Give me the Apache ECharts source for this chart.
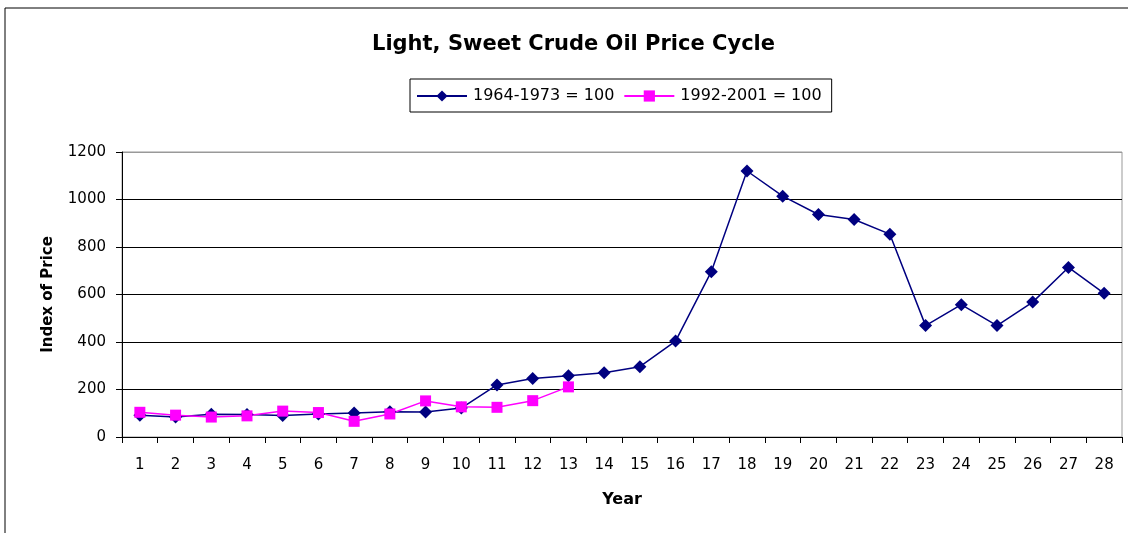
<!DOCTYPE html>
<html>
<head>
<meta charset="utf-8">
<script src="https://cdn.jsdelivr.net/npm/echarts@6/dist/echarts.min.js"></script>
<style>
  html, body { margin: 0; padding: 0; background: #fff; }
  #main { width: 1128px; height: 533px; }
</style>
</head>
<body>
<div id="main"></div>
<script>
// years of the cycle
var years = ['1','2','3','4','5','6','7','8','9','10','11','12','13','14',
             '15','16','17','18','19','20','21','22','23','24','25','26','27','28'];
// 1964-1973 = 100
var cycle1964 = [92, 84, 96, 95, 91, 97, 101, 106, 105, 122, 219, 246, 258, 271,
                 296, 404, 696, 1120, 1014, 937, 916, 854, 469, 557, 469, 568, 714, 605];
// 1992-2001 = 100
var cycle1992 = [104, 92, 84, 89, 109, 103, 66, 97, 152, 127, 125, 153, 211];
var yTicks = [0, 200, 400, 600, 800, 1000, 1200];

var font = 'DejaVu Sans, Arial, sans-serif';
var chart = echarts.init(document.getElementById('main'));
chart.setOption({
  backgroundColor: '#fff',
  animation: false,
  title: {
    text: 'Light, Sweet Crude Oil Price Cycle',
    left: 372,
    top: 34,
    padding: 0,
    textStyle: { fontFamily: font, fontSize: 21, fontWeight: 'bold', color: '#000' }
  },
  legend: {
    top: 79,
    left: 410,
    padding: [9, 10, 8, 6],
    itemGap: 9,
    itemWidth: 50,
    itemHeight: 14,
    borderColor: '#000',
    borderWidth: 1,
    textStyle: { fontFamily: font, fontSize: 16, color: '#000', padding: [0, 0, 0, 1] },
    data: ['1964-1973 = 100', '1992-2001 = 100']
  },
  graphic: [{
    type: 'rect',
    shape: { x: 5, y: 8, width: 1200, height: 600 },
    style: { fill: null, stroke: '#000', lineWidth: 1 },
    silent: true
  }],
  grid: { left: 122, right: 6, top: 152, bottom: 96, show: true, borderColor: '#999', borderWidth: 1 },
  xAxis: {
    type: 'category',
    data: years,
    boundaryGap: true,
    name: 'Year',
    nameLocation: 'middle',
    nameGap: 55,
    nameTextStyle: { fontFamily: font, fontSize: 16, fontWeight: 'bold', color: '#000' },
    axisLine: { lineStyle: { color: '#000', width: 1 } },
    axisTick: { show: true, length: 6, inside: false, lineStyle: { color: '#000' } },
    axisLabel: { fontFamily: font, fontSize: 15, color: '#000', margin: 21, interval: 0 }
  },
  yAxis: {
    type: 'value',
    min: yTicks[0],
    max: yTicks[yTicks.length - 1],
    interval: 200,
    name: 'Index of Price',
    nameLocation: 'middle',
    nameGap: 66,
    nameTextStyle: { fontFamily: font, fontSize: 15, fontWeight: 'bold', color: '#000' },
    axisLine: { show: true, lineStyle: { color: '#000', width: 1 } },
    axisTick: { show: true, length: 6, lineStyle: { color: '#000' } },
    axisLabel: {
      fontFamily: font, fontSize: 15, color: '#000', margin: 16,
      formatter: function (v) { return String(v); }
    },
    splitLine: { lineStyle: { color: ['#000', '#000', '#000', '#000', '#000', '#000', '#999'], width: 1 } }
  },
  series: [{
    name: '1964-1973 = 100',
    type: 'line',
    data: cycle1964,
    symbol: 'diamond',
    symbolSize: 13,
    color: '#000080',
    lineStyle: { color: '#000080', width: 1.5 },
    itemStyle: { color: '#000080' }
  }, {
    name: '1992-2001 = 100',
    type: 'line',
    data: cycle1992,
    symbol: 'rect',
    symbolSize: 11,
    color: '#ff00ff',
    lineStyle: { color: '#ff00ff', width: 1.5 },
    itemStyle: { color: '#ff00ff' }
  }]
});
</script>
</body>
</html>
